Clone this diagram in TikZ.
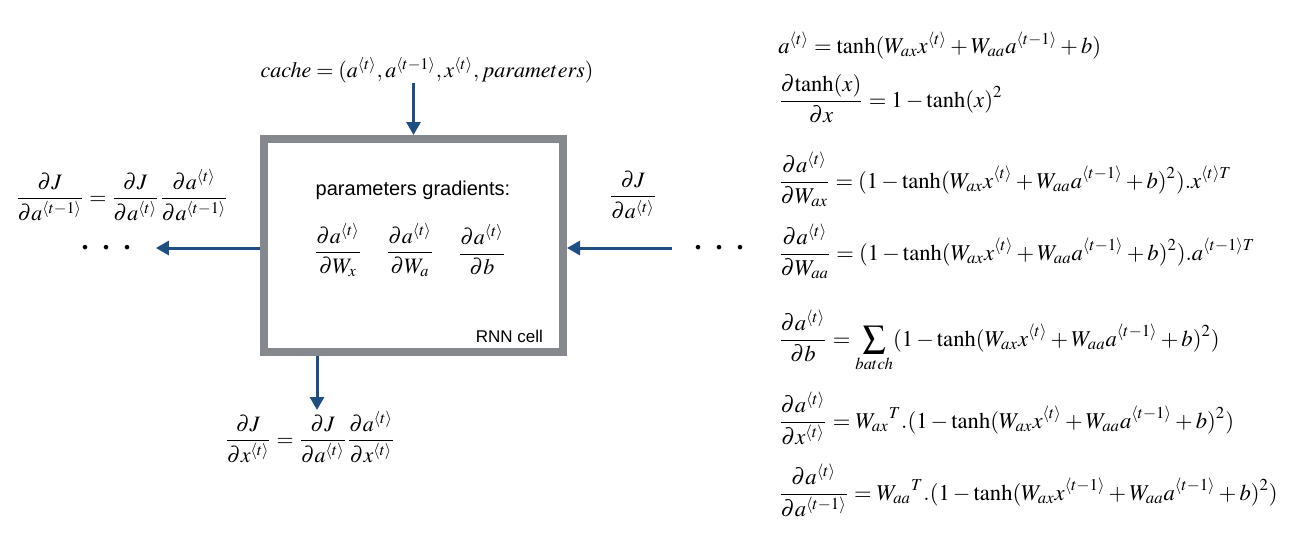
\documentclass[tikz,border=0pt]{standalone}
\usepackage{mathptmx}
\usepackage{fontspec}
\setmainfont{Liberation Serif}
\setsansfont{Liberation Sans}
\usetikzlibrary{arrows.meta}
\definecolor{flowblue}{RGB}{31,78,133}
\definecolor{cellgray}{RGB}{133,136,140}

\begin{document}
\begin{tikzpicture}[x=.5pt, y=-.5pt,
	eq/.style={inner sep=0pt, font=\fontsize{11}{13}\selectfont},
	law/.style={inner sep=0pt, anchor=base west, font=\fontsize{11.3}{13}\selectfont},
	flow/.style={draw=flowblue, line width=1.5pt, -{Triangle[width=7pt, length=6.5pt]}},
	cell/.style={draw=cellgray, line width=4pt, minimum width=149.5pt, minimum height=106.5pt},
	dots/.style={inner sep=0pt, font=\fontsize{14}{14}\selectfont\bfseries}]

	% superscript time step, partial fraction
	\def\tstep#1{^{\langle #1\rangle}}
	\def\dd#1#2{\displaystyle\frac{\partial #1}{\partial #2}}

	\useasboundingbox (0,0) rectangle (1307,537);

	% cell
	\node[cell] (cell) at (413.5,245.5) {};
	\node[font=\sffamily\fontsize{10}{12}\selectfont] (title) at (413,190) {parameters gradients:};
	\foreach \x/\w [count=\i] in {338/W_x, 410/W_a, 482/b}
		\node[eq] (grad\i) at (\x,250) {$\dd{a\tstep{t}}{\w}$};
	\node[font=\sffamily\fontsize{8.5}{10}\selectfont, anchor=base east] (name) at (550,342) {RNN cell};

	% inputs and outputs
	\node[eq] (cache) at (427,70) {$cache=(a\tstep{t},a\tstep{t-1},x\tstep{t},parameters)$};
	\node[dots] (ldots) at (106,248) {.\hspace{7pt}.\hspace{7pt}.};
	\node[dots] (rdots) at (719,248) {.\hspace{7pt}.\hspace{7pt}.};
	\node[eq] (dJprev) at (122,195) {$\dd{J}{a\tstep{t-1}}=\dd{J}{a\tstep{t}}\dd{a\tstep{t}}{a\tstep{t-1}}$};
	\node[eq] (dJin) at (633,195) {$\dd{J}{a\tstep{t}}$};
	\node[eq] (dJx) at (310,437) {$\dd{J}{x\tstep{t}}=\dd{J}{a\tstep{t}}\dd{a\tstep{t}}{x\tstep{t}}$};
	\coordinate (xout) at (317,410);

	\draw[flow] (cache.south -| cell.north) -- (cell.north);
	\draw[flow] (cell.west |- ldots.east) -- ([xshift=12.5pt]ldots.east);
	\draw[flow] ([xshift=-11pt]rdots.west) -- (cell.east |- rdots.west);
	\draw[flow] (cell.south -| xout) -- (xout);

	% equations
	\node[law] (eq1) at (778,53) {$a\tstep{t}=\tanh(W_{ax}x\tstep{t}+W_{aa}a\tstep{t-1}+b)$};
	\node[law] (eq2) at (778,107) {$\dd{\mathrm{tanh}(x)}{x}=1-\tanh(x)^2$};
	\node[law] (eq3) at (778,188) {$\dd{a\tstep{t}}{W_{ax}}=(1-\tanh(W_{ax}x\tstep{t}+W_{aa}a\tstep{t-1}+b)^2).x^{\langle t\rangle T}$};
	\node[law] (eq4) at (778,260) {$\dd{a\tstep{t}}{W_{aa}}=(1-\tanh(W_{ax}x\tstep{t}+W_{aa}a\tstep{t-1}+b)^2).a^{\langle t-1\rangle T}$};
	\node[law] (eq5) at (778,346) {$\dd{a\tstep{t}}{b}=\sum\limits_{batch}(1-\tanh(W_{ax}x\tstep{t}+W_{aa}a\tstep{t-1}+b)^2)$};
	\node[law] (eq6) at (778,428) {$\dd{a\tstep{t}}{x\tstep{t}}=W_{ax}{}^{T}.(1-\tanh(W_{ax}x\tstep{t}+W_{aa}a\tstep{t-1}+b)^2)$};
	\node[law] (eq7) at (778,500) {$\dd{a\tstep{t}}{a\tstep{t-1}}=W_{aa}{}^{T}.(1-\tanh(W_{ax}x\tstep{t-1}+W_{aa}a\tstep{t-1}+b)^2)$};
\end{tikzpicture}
\end{document}
